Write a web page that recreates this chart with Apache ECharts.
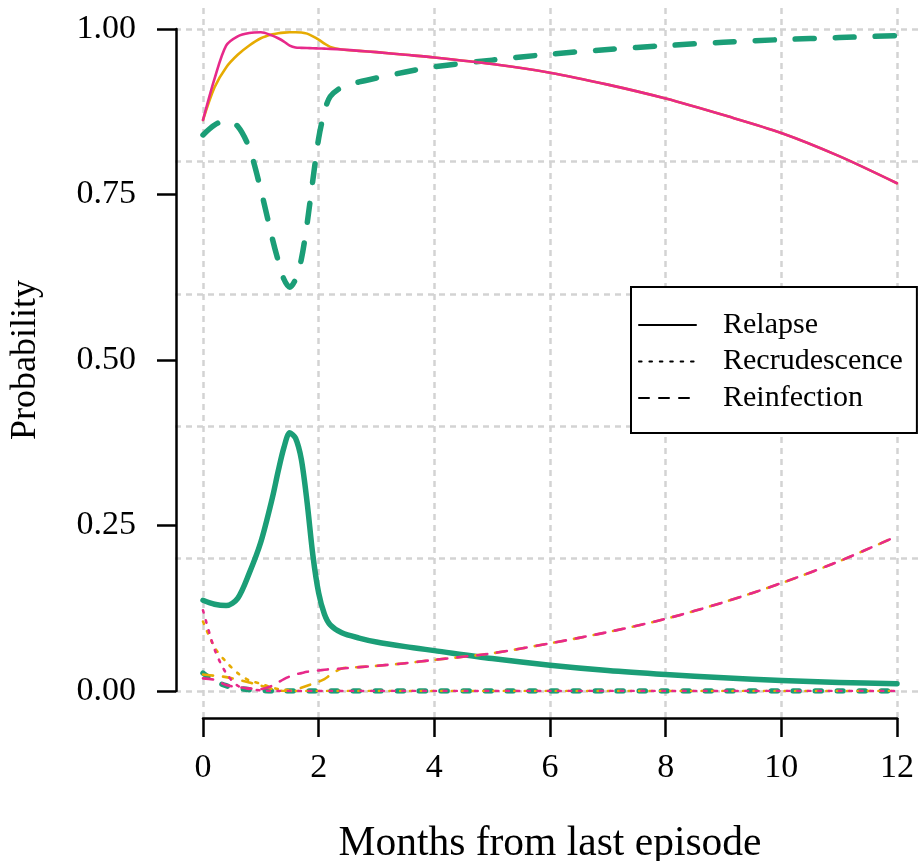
<!DOCTYPE html>
<html>
<head>
<meta charset="utf-8">
<script src="https://cdn.jsdelivr.net/npm/echarts@6/dist/echarts.min.js"></script>
<style>
html, body { margin: 0; padding: 0; background: #fff; }
#chart { width: 921px; height: 861px; }
</style>
</head>
<body>
<div id="chart"></div>
<script>
// months since last episode (denser where the curves move fast)
var months = [0, 0.2, 0.4, 0.6, 0.8, 1.0, 1.2, 1.3, 1.4, 1.5, 1.6, 1.7, 1.8, 1.9, 2.0, 2.1, 2.2, 2.4, 2.7, 3, 3.5, 4, 5, 6, 7, 8, 9, 10, 11, 12];

// green
var greenRelapse = [0.137, 0.131, 0.129, 0.14, 0.178, 0.225, 0.292, 0.332, 0.368, 0.39, 0.382, 0.35, 0.285, 0.205, 0.148, 0.116, 0.1, 0.088, 0.08, 0.074, 0.067, 0.061, 0.049, 0.039, 0.031, 0.025, 0.02, 0.016, 0.013, 0.011];
var greenRecrud = [0.027, 0.015, 0.008, 0.004, 0.002, 0.001, 0, 0, 0, 0, 0, 0, 0, 0, 0, 0, 0, 0, 0, 0, 0, 0, 0, 0, 0, 0, 0, 0, 0, 0];
var greenReinf = [0.840, 0.855, 0.862, 0.853, 0.820, 0.757, 0.683, 0.650, 0.622, 0.610, 0.622, 0.652, 0.706, 0.772, 0.835, 0.875, 0.898, 0.912, 0.920, 0.926, 0.935, 0.943, 0.953, 0.962, 0.969, 0.975, 0.980, 0.984, 0.987, 0.990];

// orange
var orangeRelapse = [0.8625, 0.912, 0.942, 0.961, 0.975, 0.986, 0.992, 0.9935, 0.9945, 0.995, 0.995, 0.9948, 0.993, 0.989, 0.984, 0.978, 0.973, 0.969, 0.967, 0.965, 0.961, 0.957, 0.947, 0.934, 0.916, 0.895, 0.870, 0.843, 0.808, 0.767];
var orangeRecrud = [0.105, 0.066, 0.044, 0.027, 0.016, 0.011, 0.005, 0.003, 0.002, 0.001, 0, 0, 0, 0, 0, 0, 0, 0, 0, 0, 0, 0, 0, 0, 0, 0, 0, 0, 0, 0];
var orangeReinf = [0.025, 0.023, 0.021, 0.017, 0.013, 0.008, 0.003, 0.001, 0, 0, 0.002, 0.005, 0.008, 0.011, 0.014, 0.018, 0.024, 0.034, 0.036, 0.038, 0.042, 0.047, 0.057, 0.072, 0.089, 0.109, 0.134, 0.163, 0.196, 0.234];

// pink
var pinkRelapse = [0.8625, 0.925, 0.975, 0.989, 0.994, 0.995, 0.990, 0.986, 0.981, 0.975, 0.972, 0.9715, 0.9712, 0.971, 0.9706, 0.9703, 0.970, 0.969, 0.967, 0.965, 0.961, 0.957, 0.947, 0.934, 0.916, 0.895, 0.870, 0.843, 0.808, 0.767];
var pinkRecrud = [0.122, 0.063, 0.027, 0.008, 0.003, 0.001, 0, 0, 0, 0, 0, 0, 0, 0, 0, 0, 0, 0, 0, 0, 0, 0, 0, 0, 0, 0, 0, 0, 0, 0];
var pinkReinf = [0.019, 0.017, 0.009, 0.006, 0.004, 0.003, 0.008, 0.013, 0.018, 0.022, 0.025, 0.027, 0.029, 0.030, 0.031, 0.032, 0.033, 0.034, 0.036, 0.038, 0.042, 0.047, 0.057, 0.072, 0.089, 0.109, 0.134, 0.163, 0.196, 0.234];

var gridX = [0, 2, 4, 6, 8, 10, 12];
var gridY = [0, 0.2, 0.4, 0.6, 0.8, 1.0];
var legendNames = ['Relapse', 'Recrudescence', 'Reinfection'];

var font = '"Liberation Serif", "Times New Roman", serif';
var green = '#1B9E77', orange = '#E6AB02', pink = '#E7298A';
var solid = 'solid', dotted = [2.6, 7.8], dashed = [10, 10];
var gDotted = [6, 16], gDashed = [19, 21];

function line(name, values, color, width, dash, z) {
    return {
        name: name,
        type: 'line',
        xAxisIndex: 1,
        yAxisIndex: 1,
        data: months.map(function (m, i) { return [m, values[i]]; }),
        symbol: 'none',
        smooth: 0.3,
        silent: true,
        z: z,
        lineStyle: { color: color, width: width, type: dash, cap: 'round', join: 'round' }
    };
}

var series = [
    // grid lines across the whole plot region, drawn on the outer grid
    {
        type: 'line',
        xAxisIndex: 0,
        yAxisIndex: 0,
        data: [[0, 0]],
        symbol: 'none',
        silent: true,
        z: 0,
        lineStyle: { opacity: 0 },
        markLine: {
            z: 0,
            silent: true,
            symbol: ['none', 'none'],
            label: { show: false },
            lineStyle: { color: '#d3d3d3', width: 2.5, type: [6, 5] },
            emphasis: { disabled: true },
            data: gridX.map(function (v) { return { xAxis: v }; })
                .concat(gridY.map(function (v) { return { yAxis: v }; }))
        }
    },
    line('g1', greenRelapse, green, 5.5, solid, 3),
    line('g2', greenRecrud, green, 5.5, gDotted, 3),
    line('g3', greenReinf, green, 5.5, gDashed, 3),
    line('o1', orangeRelapse, orange, 2.6, solid, 4),
    line('o2', orangeRecrud, orange, 2.6, dotted, 4),
    line('o3', orangeReinf, orange, 2.6, dashed, 4),
    line('p1', pinkRelapse, pink, 2.6, solid, 5),
    line('p2', pinkRecrud, pink, 2.6, dotted, 5),
    line('p3', pinkReinf, pink, 2.6, dashed, 5)
];

// black entries only used by the legend
[solid, dotted, dashed].forEach(function (dash, i) {
    series.push({
        name: legendNames[i],
        type: 'line',
        xAxisIndex: 1,
        yAxisIndex: 1,
        data: [],
        symbol: 'none',
        itemStyle: { color: '#000', opacity: 0 },
        lineStyle: { color: '#000', width: 2.6, type: dash, cap: 'round' }
    });
});

var chart = echarts.init(document.getElementById('chart'));
chart.setOption({
    animation: false,
    grid: [
        { left: 175, right: 0, top: 3, bottom: 143, outerBoundsMode: 'none', containLabel: false },
        { left: 203, right: 24, top: 29, bottom: 170, outerBoundsMode: 'none', containLabel: false }
    ],
    xAxis: [
        { type: 'value', gridIndex: 0, min: -0.484, max: 12.415, show: false },
        {
            type: 'value',
            gridIndex: 1,
            min: 0,
            max: 12,
            interval: 2,
            offset: 27,
            name: 'Months from last episode',
            nameLocation: 'middle',
            nameGap: 105,
            nameTextStyle: { fontFamily: font, fontSize: 41.5, color: '#000' },
            axisLine: { show: true, onZero: false, lineStyle: { color: '#000', width: 2.5 } },
            axisTick: { show: true, length: 19, lineStyle: { color: '#000', width: 2.5 } },
            axisLabel: { fontFamily: font, fontSize: 34, color: '#000', margin: 33 },
            splitLine: { show: false }
        }
    ],
    yAxis: [
        { type: 'value', gridIndex: 0, min: -0.041, max: 1.040, show: false },
        {
            type: 'value',
            gridIndex: 1,
            min: 0,
            max: 1,
            interval: 0.25,
            offset: 27,
            name: 'Probability',
            nameLocation: 'middle',
            nameGap: 132,
            nameTextStyle: { fontFamily: font, fontSize: 36, color: '#000' },
            axisLine: { show: true, onZero: false, lineStyle: { color: '#000', width: 2.5 } },
            axisTick: { show: true, length: 19, lineStyle: { color: '#000', width: 2.5 } },
            axisLabel: {
                fontFamily: font, fontSize: 34, color: '#000', margin: 40,
                formatter: function (v) { return v.toFixed(2); }
            },
            splitLine: { show: false }
        }
    ],
    legend: {
        data: legendNames,
        orient: 'vertical',
        left: 631,
        top: 287,
        z: 10,
        selectedMode: false,
        backgroundColor: '#fff',
        borderColor: '#000',
        borderWidth: 2,
        borderRadius: 0,
        padding: [23, 14, 20, 7],
        itemWidth: 57,
        itemHeight: 30,
        itemGap: 6.5,
        itemStyle: { opacity: 0 },
        textStyle: { fontFamily: font, fontSize: 30, color: '#000', lineHeight: 30, padding: [0, 0, 0, 22] }
    },
    series: series
});
</script>
</body>
</html>
